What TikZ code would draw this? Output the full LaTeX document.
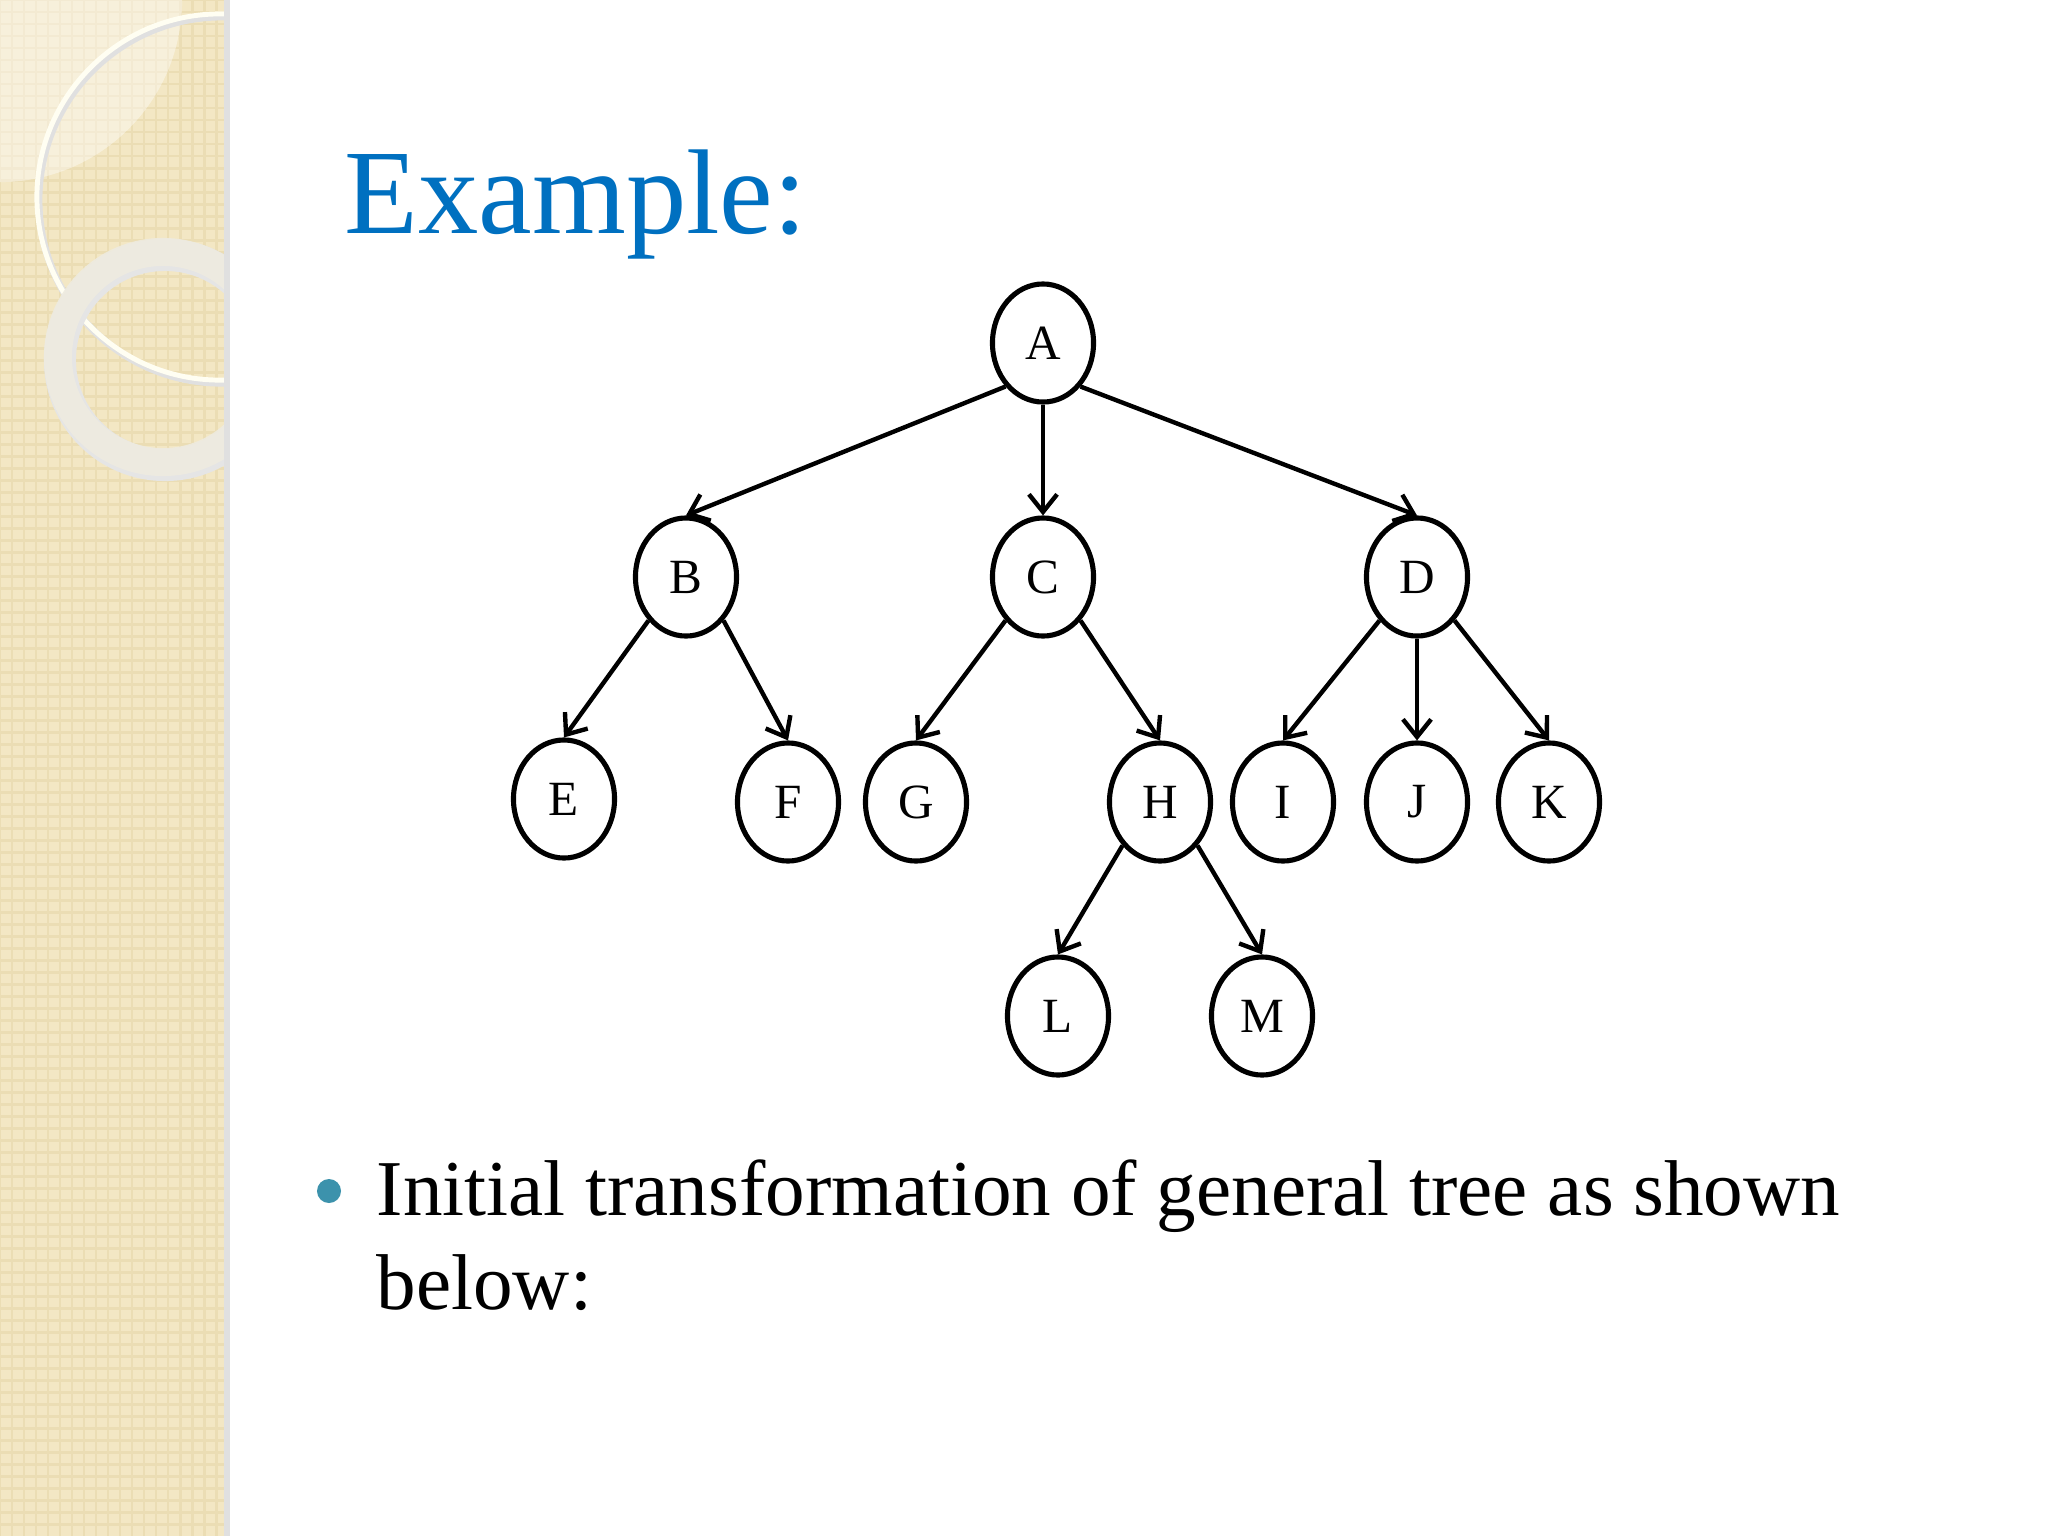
\documentclass[tikz,border=0pt]{standalone}
\usepackage{fontspec}
\setmainfont{Liberation Serif}
\usetikzlibrary{arrows.meta, shapes.geometric}
\definecolor{titleblue}{RGB}{0,112,192}
\definecolor{bandcream}{RGB}{243,231,196}
\definecolor{bandgrid}{RGB}{235,221,180}
\definecolor{ringgray}{RGB}{238,235,224}
\definecolor{bulletteal}{RGB}{60,146,172}

\begin{document}
\begin{tikzpicture}[
    x=0.01cm, y=-0.01cm,
    tnode/.style={ellipse,draw,line width=1.45pt,fill=white,
      minimum width=1.01cm,minimum height=1.18cm,inner sep=0pt,
      font=\fontsize{14}{16}\selectfont},
    link/.style={-{Straight Barb[length=5pt,width=8pt]},line width=1.25pt},
    bodytext/.style={anchor=base west,inner sep=0pt,
      font=\fontsize{22.5}{27}\selectfont}
  ]
  \useasboundingbox (0,0) rectangle (2048,1536);
  \fill[white] (0,0) rectangle (2048,1536);

  % left band
  \begin{scope}
    \clip (0,0) rectangle (227,1536);
    \fill[bandcream] (0,0) rectangle (227,1536);
    \draw[bandgrid,line width=0.8pt,step=0.12cm] (0,0) grid (227,1536);
    \fill[white,opacity=0.4] (0,0) circle[radius=1.82cm];
    \draw[black!12,line width=2pt] (222,200) circle[radius=1.83cm];
    \draw[white!95!yellow,line width=1.4pt] (220,197) circle[radius=1.83cm];
    \draw[black!10,line width=0.32cm] (165,360) circle[radius=1.05cm];
    \draw[ringgray,line width=0.28cm,opacity=0.9] (163,357) circle[radius=1.05cm];
  \end{scope}
  \draw[black!12,line width=1.5pt] (227,0) -- (227,1536);

  % title
  \node[anchor=base west,inner sep=0pt,titleblue,
    font=\fontsize{34.3}{38}\selectfont] (title) at (344,233) {Example:};

  % tree
  \node[tnode] (A) at (1043,343) {A};
  \node[tnode] (B) at (686,577) {B};
  \node[tnode] (C) at (1043,577) {C};
  \node[tnode] (D) at (1417,577) {D};
  \node[tnode] (E) at (564,799) {E};
  \node[tnode] (F) at (788,802) {F};
  \node[tnode] (G) at (916,802) {G};
  \node[tnode] (H) at (1160,802) {H};
  \node[tnode] (I) at (1283,802) {I};
  \node[tnode] (J) at (1417,802) {J};
  \node[tnode] (K) at (1549,802) {K};
  \node[tnode] (L) at (1058,1016) {L};
  \node[tnode] (M) at (1262,1016) {M};
  \foreach \a/\s/\b in {A/south west/B, A/south/C, A/south east/D,
      B/south west/E, B/south east/F, C/south west/G, C/south east/H,
      D/south west/I, D/south/J, D/south east/K,
      H/south west/L, H/south east/M} {
    \draw[link] (\a.\s) -- (\b.north); }

  % bullet text
  \fill[bulletteal] (329,1191) circle[radius=0.12cm];
  \node[bodytext] (line1) at (376,1215) {Initial transformation of general tree as shown};
  \node[bodytext] (line2) at (376,1309) {below:};
\end{tikzpicture}
\end{document}
